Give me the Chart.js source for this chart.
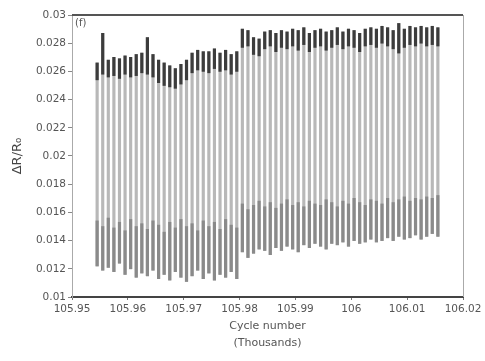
<!DOCTYPE html>
<html>
<head>
<meta charset="utf-8">
<script src="https://cdn.jsdelivr.net/npm/chart.js@4.4.1/dist/chart.umd.min.js"></script>
<style>
  html, body { margin: 0; padding: 0; background: #fff; }
  #wrap { width: 485px; height: 361px; }
</style>
</head>
<body>
<div id="wrap"><canvas id="cycle-chart"></canvas></div>
<script>
// Resistance change per cycle
// ------------------------------

// first plotted cycle (cycle number), one stripe per cycle after that
var firstCycle = 105954.5;

// top of each cycle
var peaks = [
    0.0266, 0.0287, 0.0268, 0.0270, 0.0269, 0.0271, 0.0270, 0.0272, 0.0273, 0.0284,
    0.0272, 0.0268, 0.0266, 0.0264, 0.0262, 0.0265, 0.0268, 0.0273, 0.0275, 0.0274,
    0.0274, 0.0276, 0.0273, 0.0275, 0.0272, 0.0274, 0.0290, 0.0289, 0.0284, 0.0283,
    0.0288, 0.0289, 0.0287, 0.0289, 0.0288, 0.0290, 0.0289, 0.0291, 0.0287, 0.0289,
    0.0290, 0.0288, 0.0289, 0.0291, 0.0288, 0.0290, 0.0289, 0.0287, 0.0290, 0.0291,
    0.0290, 0.0292, 0.0291, 0.0289, 0.0294, 0.0290, 0.0292, 0.0291, 0.0292, 0.0291,
    0.0292, 0.0291
];

// lower end of the dark band near the top of each cycle
var capLows = [
    0.0254, 0.0258, 0.0256, 0.0257, 0.0255, 0.0258, 0.0256, 0.0257, 0.0259, 0.0258,
    0.0256, 0.0252, 0.0250, 0.0249, 0.0248, 0.0251, 0.0254, 0.0259, 0.0261, 0.0260,
    0.0259, 0.0262, 0.0260, 0.0261, 0.0258, 0.0260, 0.0277, 0.0278, 0.0272, 0.0271,
    0.0276, 0.0278, 0.0274, 0.0277, 0.0276, 0.0278, 0.0275, 0.0279, 0.0274, 0.0277,
    0.0278, 0.0275, 0.0277, 0.0279, 0.0276, 0.0278, 0.0277, 0.0274, 0.0278, 0.0279,
    0.0277, 0.0280, 0.0278, 0.0276, 0.0273, 0.0277, 0.0279, 0.0278, 0.0280, 0.0278,
    0.0279, 0.0278
];

// top of the darker lower part of each cycle
var lowerTops = [
    0.0154, 0.0150, 0.0156, 0.0149, 0.0153, 0.0147, 0.0155, 0.0150, 0.0152, 0.0148,
    0.0154, 0.0151, 0.0146, 0.0153, 0.0149, 0.0155, 0.0150, 0.0152, 0.0147, 0.0154,
    0.0150, 0.0153, 0.0148, 0.0155, 0.0151, 0.0149, 0.0166, 0.0162, 0.0165, 0.0168,
    0.0164, 0.0167, 0.0163, 0.0166, 0.0169, 0.0165, 0.0167, 0.0164, 0.0168, 0.0166,
    0.0165, 0.0169, 0.0167, 0.0164, 0.0168, 0.0166, 0.0170, 0.0167, 0.0165, 0.0169,
    0.0168, 0.0166, 0.0170, 0.0167, 0.0169, 0.0171, 0.0168, 0.0170, 0.0169, 0.0171,
    0.0170, 0.0172
];

// bottom of each cycle
var valleys = [
    0.0122, 0.0119, 0.0121, 0.0118, 0.0124, 0.0116, 0.0120, 0.0114, 0.0117, 0.0115,
    0.0119, 0.0113, 0.0116, 0.0112, 0.0118, 0.0114, 0.0111, 0.0115, 0.0119, 0.0113,
    0.0117, 0.0112, 0.0116, 0.0114, 0.0118, 0.0113, 0.0132, 0.0128, 0.0131, 0.0134,
    0.0133, 0.0130, 0.0135, 0.0133, 0.0136, 0.0134, 0.0132, 0.0137, 0.0135, 0.0138,
    0.0136, 0.0134, 0.0138, 0.0137, 0.0139, 0.0136, 0.0140, 0.0138, 0.0139, 0.0141,
    0.0139, 0.0140, 0.0142, 0.0140, 0.0143, 0.0141, 0.0142, 0.0144, 0.0141, 0.0143,
    0.0145, 0.0143
];

// axis ticks
var yTicks = [0.01, 0.012, 0.014, 0.016, 0.018, 0.02, 0.022, 0.024, 0.026, 0.028, 0.03];
var xTicks = [105.95, 105.96, 105.97, 105.98, 105.99, 106, 106.01, 106.02];

// cycle positions in thousands
var cycles = peaks.map(function(_, i){ return (firstCycle + i) / 1000; });

function ranges(lo, hi) {
    return cycles.map(function(x, i){ return { x: x, y: [lo[i], hi[i]] }; });
}

var fontFamily = "'DejaVu Sans', Verdana, sans-serif";
var tickFont = { family: fontFamily, size: 10.5 };

// frame along the top and right edge, plus the panel tag
var framePlugin = {
    id: 'frame',
    afterDraw: function(chart) {
        var a = chart.chartArea, c = chart.ctx;
        c.save();
        c.strokeStyle = '#555';
        c.lineWidth = 2;
        c.beginPath();
        c.moveTo(a.left, a.top);
        c.lineTo(a.right, a.top);
        c.stroke();
        c.strokeStyle = '#aaa';
        c.lineWidth = 1;
        c.beginPath();
        c.moveTo(a.right + 0.5, a.top);
        c.lineTo(a.right + 0.5, a.bottom);
        c.stroke();
        c.fillStyle = '#555';
        c.font = "10px " + fontFamily;
        c.textBaseline = 'top';
        c.fillText('(f)', a.left + 3, a.top + 3);
        c.restore();
    }
};

var barStyle = { barThickness: 2.5, grouped: false, borderWidth: 0 };

var config = {
    type: 'bar',
    data: {
        datasets: [
            Object.assign({ label: 'top', data: ranges(capLows, peaks), backgroundColor: '#3c3c3c' }, barStyle),
            Object.assign({ label: 'lower', data: ranges(valleys, lowerTops), backgroundColor: '#8a8a8a' }, barStyle),
            Object.assign({ label: 'body', data: ranges(valleys, peaks), backgroundColor: '#b8b8b8' }, barStyle)
        ]
    },
    options: {
        responsive: true,
        maintainAspectRatio: false,
        animation: false,
        layout: { padding: { top: 15, right: 22, bottom: 10, left: 0 } },
        plugins: {
            legend: { display: false },
            tooltip: { enabled: false }
        },
        scales: {
            x: {
                type: 'linear',
                offset: false,
                min: xTicks[0],
                max: xTicks[xTicks.length - 1],
                afterBuildTicks: function(s){ s.ticks = xTicks.map(function(v){ return { value: v }; }); },
                afterFit: function(s){ s.height = 54; },
                ticks: {
                    color: '#555',
                    font: tickFont,
                    padding: 3,
                    maxRotation: 0,
                    autoSkip: false,
                    callback: function(v){ return String(parseFloat(v.toFixed(2))); }
                },
                grid: { drawOnChartArea: false, offset: false, tickLength: 3, color: '#777' },
                border: { color: '#444', width: 2 },
                title: {
                    display: true,
                    text: ['Cycle number', '(Thousands)'],
                    color: '#555',
                    font: { family: fontFamily, size: 11, lineHeight: 1.5 },
                    padding: { top: 0, bottom: 0 }
                }
            },
            y: {
                min: yTicks[0],
                max: yTicks[yTicks.length - 1],
                afterBuildTicks: function(s){ s.ticks = yTicks.map(function(v){ return { value: v }; }); },
                afterFit: function(s){ s.width = 72; },
                ticks: {
                    color: '#555',
                    font: tickFont,
                    padding: 2,
                    callback: function(v){ return String(parseFloat(v.toFixed(4))); }
                },
                grid: { drawOnChartArea: false, tickLength: 4, color: '#888' },
                border: { color: '#aaa', width: 1 },
                title: {
                    display: true,
                    text: 'ΔR/R₀',
                    color: '#444',
                    font: { family: fontFamily, size: 13 },
                    padding: { top: 10, bottom: 0 }
                }
            }
        }
    },
    plugins: [framePlugin]
};

var cycleChart = new Chart(document.getElementById('cycle-chart'), config);
</script>
</body>
</html>
